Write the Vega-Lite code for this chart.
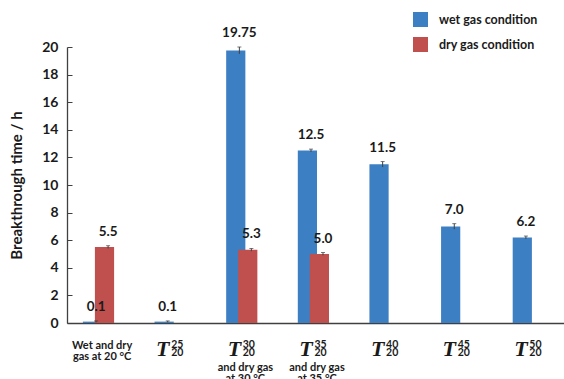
{
  "$schema": "https://vega.github.io/schema/vega-lite/v6.json",
  "width": 497,
  "height": 276,
  "autosize": "none",
  "padding": {"left": 67, "top": 47, "right": 0, "bottom": 56},
  "background": "white",
  "config": {
    "view": {"stroke": null},
    "font": "Lato",
    "axis": {"labelAngle": 0, "labelOverlap": false, "labelBound": false, "labelFlush": false},
    "axisY": {
      "labelOverlap": false,
      "grid": false,
      "domainColor": "#404040", "domainWidth": 1.3,
      "tickColor": "#404040", "tickSize": -5,
      "labelFont": "Lato", "labelFontWeight": "bold", "labelFontSize": 14, "labelColor": "#1a1a1a",
      "labelPadding": 14,
      "titleFont": "Lato", "titleFontWeight": "bold", "titleFontSize": 15, "titleColor": "#1a1a1a",
      "titlePadding": 17
    }
  },
  "data": {
    "values": [
      {"temp": 20, "series": "wet gas condition", "value": 0.1, "lo": 0.05, "hi": 0.15, "label": "0.1"},
      {"temp": 25, "series": "wet gas condition", "value": 0.1, "lo": 0.05, "hi": 0.15, "label": "0.1"},
      {"temp": 30, "series": "wet gas condition", "value": 19.75, "lo": 19.5, "hi": 20.0, "label": "19.75"},
      {"temp": 35, "series": "wet gas condition", "value": 12.5, "lo": 12.4, "hi": 12.6, "label": "12.5"},
      {"temp": 40, "series": "wet gas condition", "value": 11.5, "lo": 11.3, "hi": 11.7, "label": "11.5"},
      {"temp": 45, "series": "wet gas condition", "value": 7.0, "lo": 6.8, "hi": 7.2, "label": "7.0"},
      {"temp": 50, "series": "wet gas condition", "value": 6.2, "lo": 6.1, "hi": 6.3, "label": "6.2"},
      {"temp": 20, "series": "dry gas condition", "value": 5.5, "lo": 5.4, "hi": 5.6, "label": "5.5"},
      {"temp": 30, "series": "dry gas condition", "value": 5.3, "lo": 5.2, "hi": 5.4, "label": "5.3"},
      {"temp": 35, "series": "dry gas condition", "value": 5.0, "lo": 4.9, "hi": 5.1, "label": "5.0"}
    ]
  },
  "layer": [
    {
      "mark": {"type": "bar", "width": {"band": 1.6}},
      "encoding": {
        "x": {
          "field": "temp", "type": "ordinal",
          "scale": {"range": [0, 500], "paddingInner": 0.665, "paddingOuter": 0.3225},
          "axis": {
            "orient": "bottom", "title": null, "ticks": false, "tickSize": 0,
            "domain": true, "domainColor": "#404040", "domainWidth": 1.3,
            "labelExpr": "datum.value == 20 ? '' : 'T'",
            "labelFont": "Liberation Serif", "labelFontStyle": "italic", "labelFontWeight": "bold",
            "labelFontSize": 22, "labelColor": "#1a1a1a",
            "labelBaseline": "alphabetic", "labelPadding": 32, "labelOffset": -11
          }
        },
        "xOffset": {
          "field": "series", "type": "nominal",
          "scale": {"domain": ["wet gas condition", "dry gas condition"], "paddingInner": 0, "paddingOuter": 0}
        },
        "y": {
          "field": "value", "type": "quantitative",
          "title": "Breakthrough time / h",
          "scale": {"domain": [0, 20], "nice": false},
          "axis": {"values": [0, 2, 4, 6, 8, 10, 12, 14, 16, 18, 20]}
        },
        "color": {
          "field": "series", "type": "nominal",
          "scale": {"domain": ["wet gas condition", "dry gas condition"], "range": ["#3d7fc3", "#c0504d"]},
          "legend": {
            "orient": "none", "legendX": 346, "legendY": -35, "title": null,
            "symbolType": "square", "symbolSize": 225, "symbolStrokeWidth": 0, "symbolOpacity": 1,
            "labelFont": "Lato", "labelFontSize": 12.5, "labelFontWeight": "bold", "labelColor": "#1a1a1a",
            "rowPadding": 10, "labelOffset": 11, "padding": 0
          }
        }
      }
    },
    {
      "mark": {"type": "rule", "color": "#404040", "strokeWidth": 1},
      "encoding": {
        "x": {
          "field": "temp", "type": "ordinal",
          "axis": {
            "orient": "bottom", "title": null, "ticks": false, "tickSize": 0, "domain": false,
            "labelExpr": "datum.value == 20 ? '' : [datum.value + '', '20']",
            "labelFont": "Lato", "labelFontWeight": "bold", "labelFontSize": 10.5, "labelColor": "#1a1a1a",
            "labelLineHeight": 8.5, "labelBaseline": "top", "labelPadding": 16, "labelOffset": 3.5
          }
        },
        "xOffset": {"field": "series", "type": "nominal"},
        "y": {"field": "lo", "type": "quantitative", "title": "Breakthrough time / h", "axis": {"values": [0, 2, 4, 6, 8, 10, 12, 14, 16, 18, 20]}},
        "y2": {"field": "hi"}
      }
    },
    {
      "mark": {"type": "tick", "orient": "horizontal", "size": 4, "thickness": 1, "color": "#404040"},
      "encoding": {
        "x": {
          "field": "temp", "type": "ordinal",
          "axis": {
            "orient": "bottom", "title": null, "ticks": false, "tickSize": 0, "domain": false,
            "labelExpr": "datum.value == 30 ? ['and dry gas', 'at 30 °C'] : datum.value == 35 ? ['and dry gas', 'at 35 °C'] : ''",
            "labelFont": "Lato", "labelFontWeight": "bold", "labelFontSize": 11, "labelColor": "#1a1a1a",
            "labelLineHeight": 11, "labelBaseline": "top", "labelPadding": 38
          }
        },
        "xOffset": {"field": "series", "type": "nominal"},
        "y": {"field": "hi", "type": "quantitative", "title": "Breakthrough time / h", "axis": {"values": [0, 2, 4, 6, 8, 10, 12, 14, 16, 18, 20]}}
      }
    },
    {
      "mark": {"type": "text", "fontWeight": "bold", "fontSize": 13.5, "font": "Lato", "baseline": "alphabetic", "dy": -10, "color": "#1a1a1a"},
      "encoding": {
        "x": {
          "field": "temp", "type": "ordinal",
          "axis": {
            "orient": "bottom", "title": null, "ticks": false, "tickSize": 0, "domain": false,
            "labelExpr": "datum.value == 20 ? ['Wet and dry', 'gas at 20 °C'] : ''",
            "labelFont": "Lato", "labelFontWeight": "bold", "labelFontSize": 11, "labelColor": "#1a1a1a",
            "labelLineHeight": 11, "labelBaseline": "top", "labelPadding": 16
          }
        },
        "xOffset": {"field": "series", "type": "nominal"},
        "y": {"field": "hi", "type": "quantitative", "title": "Breakthrough time / h", "axis": {"values": [0, 2, 4, 6, 8, 10, 12, 14, 16, 18, 20]}},
        "text": {"field": "label", "type": "nominal"}
      }
    }
  ],
  "resolve": {"axis": {"x": "independent"}}
}
